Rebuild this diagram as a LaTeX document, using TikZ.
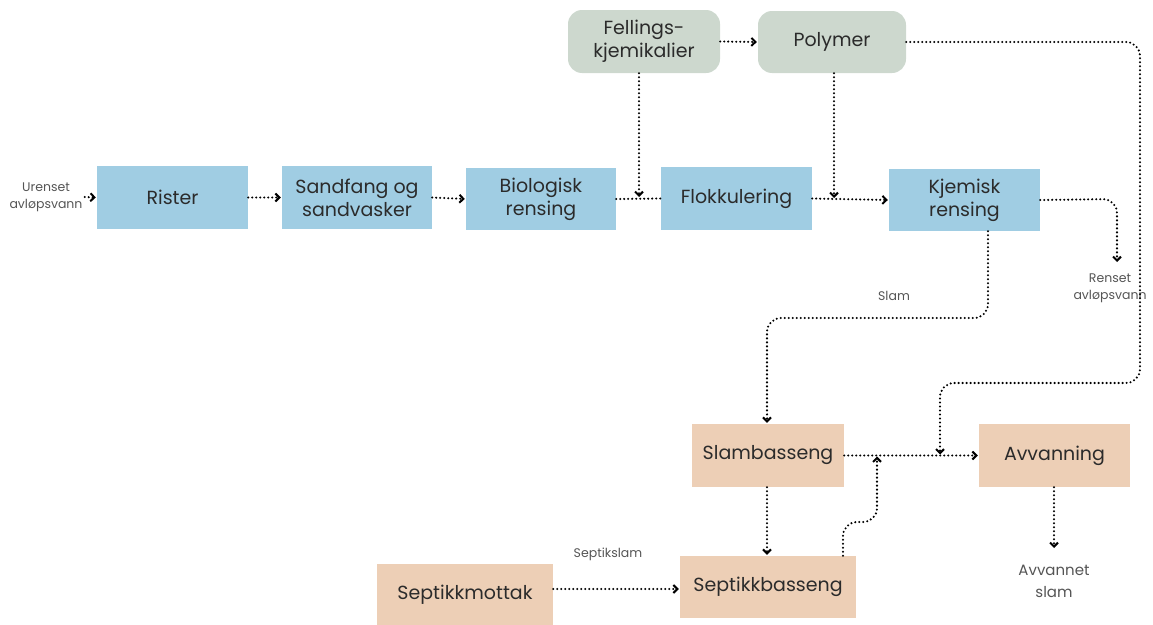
\documentclass[tikz,border=0pt]{standalone}
\usepackage{fontspec}
\setmainfont{Poppins}
\usetikzlibrary{arrows.meta}
\definecolor{bl}{HTML}{A0CDE3}
\definecolor{gr}{HTML}{CDD8CE}
\definecolor{pe}{HTML}{EDCFB6}
\definecolor{tx}{HTML}{2B2B2B}
\definecolor{lb}{HTML}{555555}
\tikzset{
  box/.style={rectangle, inner sep=0pt, align=center, text=tx, font=\fontsize{19}{23}\selectfont},
  bluebox/.style={box, fill=bl},
  greenbox/.style={box, fill=gr, rounded corners=14pt},
  peachbox/.style={box, fill=pe},
  lbl/.style={inner sep=0pt, align=center, text=lb, font=\fontsize{12.5}{17}\selectfont},
  dl/.style={line width=2.3pt, line cap=round, dash pattern=on 0pt off 4pt, rounded corners=14pt},
  arr/.style={dl, -{Straight Barb[length=4pt,width=8pt,line width=2pt]}, shorten >=1pt},
}
\begin{document}
\begin{tikzpicture}[x=1pt,y=-1pt]
\useasboundingbox (0,0) rectangle (1153,624);
% nodes
\node[bluebox, minimum width=151, minimum height=63] (rister) at (172.5,197.5) {Rister};
\node[bluebox, minimum width=150, minimum height=63] (sand) at (357,197.5) {Sandfang og\\sandvasker};
\node[bluebox, minimum width=150, minimum height=62] (bio) at (541,199) {Biologisk\\rensing};
\node[bluebox, minimum width=151, minimum height=63] (flok) at (736.5,198.5) {Flokkulering};
\node[bluebox, minimum width=151, minimum height=62] (kjem) at (964.5,200) {Kjemisk\\rensing};
\node[greenbox, minimum width=152, minimum height=63] (fell) at (644,41.5) {Fellings-\\kjemikalier};
\node[greenbox, minimum width=148, minimum height=62] (poly) at (832,42) {Polymer};
\node[peachbox, minimum width=152, minimum height=63] (slamb) at (768,455.5) {Slambasseng};
\node[peachbox, minimum width=151, minimum height=63] (avv) at (1054.5,455.5) {Avvanning};
\node[peachbox, minimum width=176, minimum height=62] (septb) at (768,587) {Septikkbasseng};
\node[peachbox, minimum width=176, minimum height=62] (septm) at (465,595) {Septikkmottak};
% labels
\node[lbl] (uren) at (46,197) {Urenset\\avløpsvann};
\node[lbl] (rens) at (1110,288) {Renset\\avløpsvann};
\node[lbl] (slaml) at (894,296) {Slam};
\node[lbl] (septl) at (608,554) {Septikslam};
\node[lbl, font=\fontsize{15}{22}\selectfont] (avvs) at (1054,581) {Avvannet\\slam};
% coordinates
\coordinate (j1) at (639,198);
\coordinate (j2) at (834,199);
\coordinate (j3) at (940,455.5);
\coordinate (j4) at (877,455.5);
\coordinate (rtop) at (1117,263);
\coordinate (atip) at (1054,549);
% connectors
\draw[arr] ([xshift=2]uren.east) -- (rister.west);
\draw[arr] (rister.east) -- (sand.west);
\draw[arr] (sand.east) -- (bio.west);
\draw[dl] (bio.east) -- (flok.west);
\draw[arr] (flok.east) -- (kjem.west);
\draw[arr] (fell.east) -- (poly.west);
\draw[arr] (fell.south -| j1) -- (j1);
\draw[arr] (poly.south -| j2) -- (j2);
\draw[arr] (poly.east) -- (1140,42) -- (1140,383) -- (940,383) -- (j3);
\draw[arr] (kjem.east) -- (1117,199) -- (rtop);
\draw[arr] (kjem.south -| 988,0) -- (988,318) -- (767,318) -- (slamb.north -| 767,0);
\draw[arr] (slamb.east) -- (avv.west);
\draw[arr] (slamb.south -| 767,0) -- (septb.north -| 767,0);
\draw[arr] (septb.north -| 843,0) -- (843,522) -- (877,522) -- (j4);
\draw[arr] (septm.east |- 0,589) -- (septb.west |- 0,589);
\draw[arr] (avv.south -| atip) -- (atip);
\end{tikzpicture}
\end{document}
